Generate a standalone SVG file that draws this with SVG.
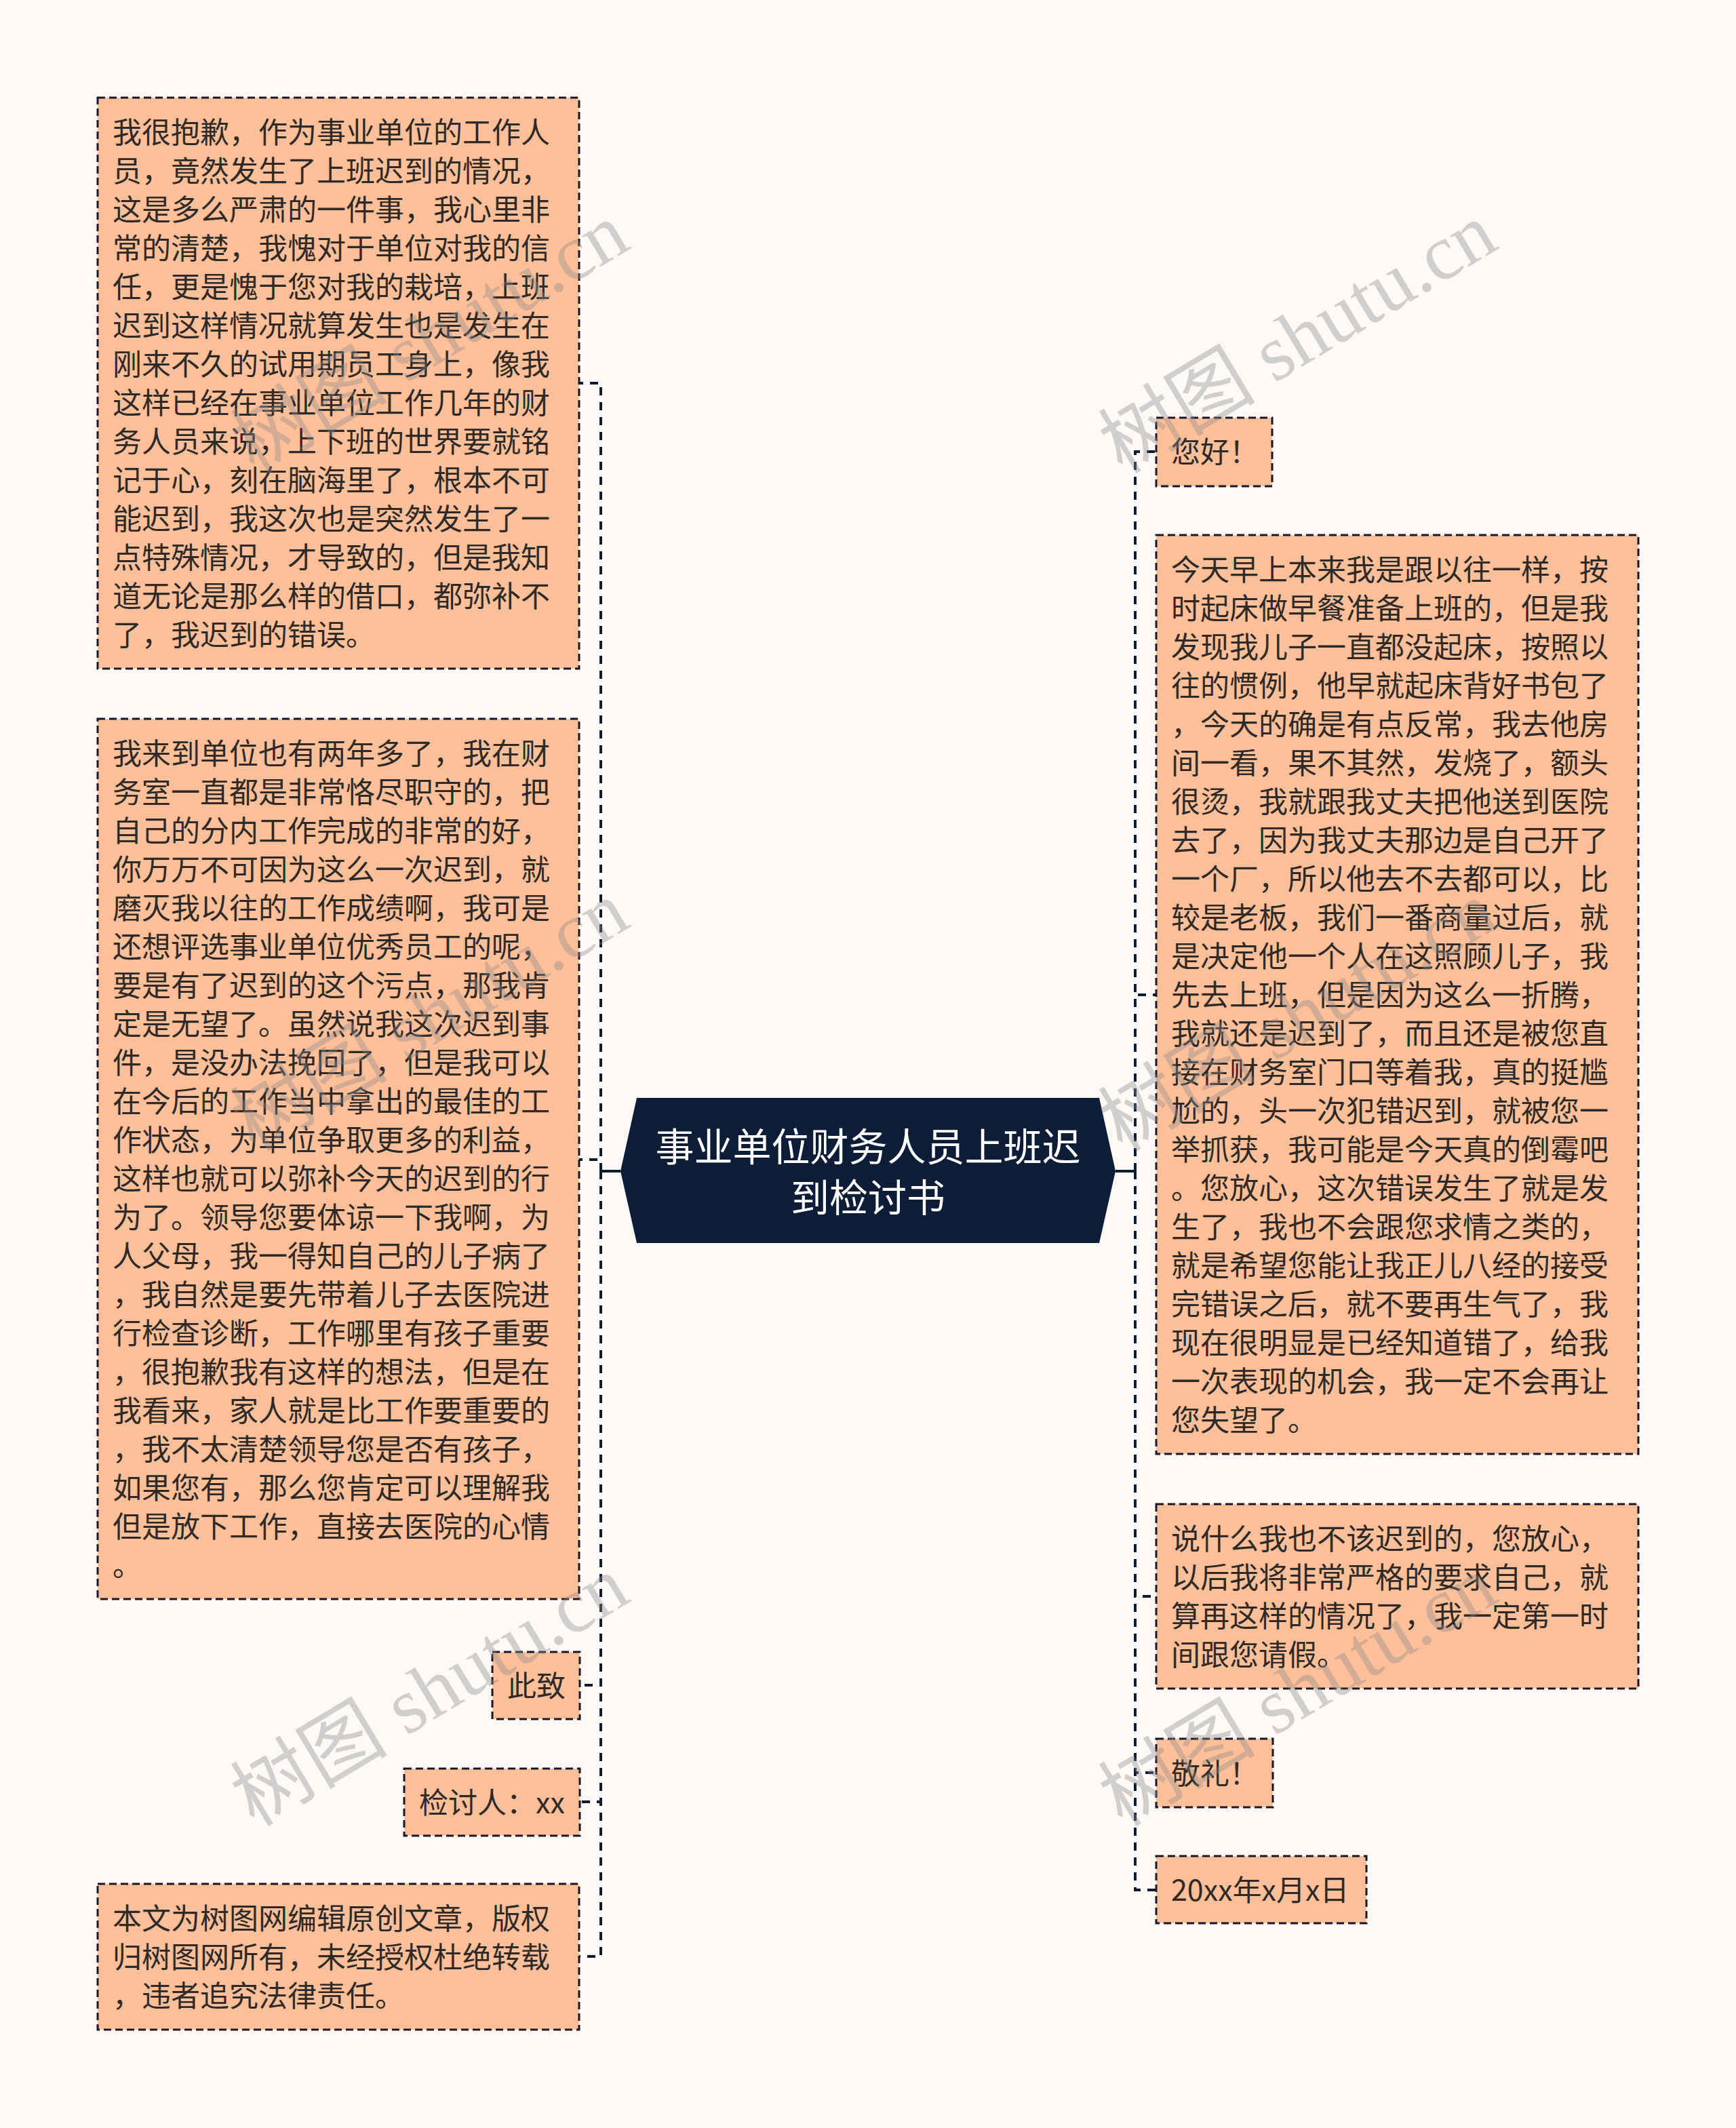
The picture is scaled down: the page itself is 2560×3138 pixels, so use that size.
<svg xmlns="http://www.w3.org/2000/svg" width="2560" height="3138" viewBox="0 0 2560 3138">
<style>
.bg{fill:#fdf9f7}
.box{fill:#ffbf99;stroke:#16182a;stroke-width:3;stroke-dasharray:11 6}
.t{font-family:"Noto Sans CJK SC","Noto Sans",sans-serif;font-size:43px;fill:#2e2a28}
.title{font-family:"Noto Sans CJK SC","Noto Sans",sans-serif;font-size:57px;fill:#ffffff;text-anchor:middle}
.con{fill:none;stroke:#0d1b33;stroke-width:4;stroke-dasharray:12 10}
.solid{fill:none;stroke:#0d1b33;stroke-width:4}
.wm{font-family:"Liberation Serif","Noto Sans CJK SC",serif;font-size:116px;fill:#8c8c8c;opacity:0.38}
</style>
<rect class="bg" x="0" y="0" width="2560" height="3138"/>

<g id="connectors">
  <line class="solid" x1="915" y1="1727" x2="884" y2="1727"/>
  <path class="con" d="M886,1727 V565 H854"/>
  <path class="con" d="M886,1727 V1710 H854"/>
  <path class="con" d="M886,1727 V2485 H855"/>
  <path class="con" d="M886,1727 V2657 H854"/>
  <path class="con" d="M886,1727 V2885 H854"/>
  <line class="solid" x1="1645" y1="1727" x2="1676" y2="1727"/>
  <path class="con" d="M1674,1727 V666 H1705"/>
  <path class="con" d="M1674,1727 V1467 H1705"/>
  <path class="con" d="M1674,1727 V2354 H1705"/>
  <path class="con" d="M1674,1727 V2614 H1705"/>
  <path class="con" d="M1674,1727 V2787 H1705"/>
</g>

<g id="center">
  <polygon points="939,1619 1621,1619 1645,1727 1621,1833 939,1833 915,1727" fill="#0d1d38"/>
  <text class="title"><tspan x="1280" y="1712">事业单位财务人员上班迟</tspan><tspan x="1280" y="1787">到检讨书</tspan></text>
</g>

<g id="node-left-1">
  <rect class="box" x="144" y="144" width="710" height="842"/>
  <text class="t">
    <tspan x="166" y="211">我很抱歉，作为事业单位的工作人</tspan>
    <tspan x="166" y="268">员，竟然发生了上班迟到的情况，</tspan>
    <tspan x="166" y="325">这是多么严肃的一件事，我心里非</tspan>
    <tspan x="166" y="382">常的清楚，我愧对于单位对我的信</tspan>
    <tspan x="166" y="439">任，更是愧于您对我的栽培，上班</tspan>
    <tspan x="166" y="496">迟到这样情况就算发生也是发生在</tspan>
    <tspan x="166" y="553">刚来不久的试用期员工身上，像我</tspan>
    <tspan x="166" y="610">这样已经在事业单位工作几年的财</tspan>
    <tspan x="166" y="667">务人员来说，上下班的世界要就铭</tspan>
    <tspan x="166" y="724">记于心，刻在脑海里了，根本不可</tspan>
    <tspan x="166" y="781">能迟到，我这次也是突然发生了一</tspan>
    <tspan x="166" y="838">点特殊情况，才导致的，但是我知</tspan>
    <tspan x="166" y="895">道无论是那么样的借口，都弥补不</tspan>
    <tspan x="166" y="952">了，我迟到的错误。</tspan>
  </text>
</g>

<g id="node-left-2">
  <rect class="box" x="144" y="1060" width="710" height="1298"/>
  <text class="t">
    <tspan x="166" y="1127">我来到单位也有两年多了，我在财</tspan>
    <tspan x="166" y="1184">务室一直都是非常恪尽职守的，把</tspan>
    <tspan x="166" y="1241">自己的分内工作完成的非常的好，</tspan>
    <tspan x="166" y="1298">你万万不可因为这么一次迟到，就</tspan>
    <tspan x="166" y="1355">磨灭我以往的工作成绩啊，我可是</tspan>
    <tspan x="166" y="1412">还想评选事业单位优秀员工的呢，</tspan>
    <tspan x="166" y="1469">要是有了迟到的这个污点，那我肯</tspan>
    <tspan x="166" y="1526">定是无望了。虽然说我这次迟到事</tspan>
    <tspan x="166" y="1583">件，是没办法挽回了，但是我可以</tspan>
    <tspan x="166" y="1640">在今后的工作当中拿出的最佳的工</tspan>
    <tspan x="166" y="1697">作状态，为单位争取更多的利益，</tspan>
    <tspan x="166" y="1754">这样也就可以弥补今天的迟到的行</tspan>
    <tspan x="166" y="1811">为了。领导您要体谅一下我啊，为</tspan>
    <tspan x="166" y="1868">人父母，我一得知自己的儿子病了</tspan>
    <tspan x="166" y="1925">，我自然是要先带着儿子去医院进</tspan>
    <tspan x="166" y="1982">行检查诊断，工作哪里有孩子重要</tspan>
    <tspan x="166" y="2039">，很抱歉我有这样的想法，但是在</tspan>
    <tspan x="166" y="2096">我看来，家人就是比工作要重要的</tspan>
    <tspan x="166" y="2153">，我不太清楚领导您是否有孩子，</tspan>
    <tspan x="166" y="2210">如果您有，那么您肯定可以理解我</tspan>
    <tspan x="166" y="2267">但是放下工作，直接去医院的心情</tspan>
    <tspan x="166" y="2324">。</tspan>
  </text>
</g>

<g id="node-left-3">
  <rect class="box" x="726" y="2436" width="129" height="99"/>
  <text class="t" x="748" y="2502">此致</text>
</g>

<g id="node-left-4">
  <rect class="box" x="596" y="2608" width="259" height="99"/>
  <text class="t" x="618" y="2674">检讨人：xx</text>
</g>

<g id="node-left-5">
  <rect class="box" x="144" y="2778" width="710" height="215"/>
  <text class="t">
    <tspan x="166" y="2845">本文为树图网编辑原创文章，版权</tspan>
    <tspan x="166" y="2902">归树图网所有，未经授权杜绝转载</tspan>
    <tspan x="166" y="2959">，违者追究法律责任。</tspan>
  </text>
</g>

<g id="node-right-1">
  <rect class="box" x="1705" y="616" width="171" height="101"/>
  <text class="t" x="1727" y="682">您好！</text>
</g>

<g id="node-right-2">
  <rect class="box" x="1705" y="789" width="711" height="1355"/>
  <text class="t">
    <tspan x="1727" y="856">今天早上本来我是跟以往一样，按</tspan>
    <tspan x="1727" y="913">时起床做早餐准备上班的，但是我</tspan>
    <tspan x="1727" y="970">发现我儿子一直都没起床，按照以</tspan>
    <tspan x="1727" y="1027">往的惯例，他早就起床背好书包了</tspan>
    <tspan x="1727" y="1084">，今天的确是有点反常，我去他房</tspan>
    <tspan x="1727" y="1141">间一看，果不其然，发烧了，额头</tspan>
    <tspan x="1727" y="1198">很烫，我就跟我丈夫把他送到医院</tspan>
    <tspan x="1727" y="1255">去了，因为我丈夫那边是自己开了</tspan>
    <tspan x="1727" y="1312">一个厂，所以他去不去都可以，比</tspan>
    <tspan x="1727" y="1369">较是老板，我们一番商量过后，就</tspan>
    <tspan x="1727" y="1426">是决定他一个人在这照顾儿子，我</tspan>
    <tspan x="1727" y="1483">先去上班，但是因为这么一折腾，</tspan>
    <tspan x="1727" y="1540">我就还是迟到了，而且还是被您直</tspan>
    <tspan x="1727" y="1597">接在财务室门口等着我，真的挺尴</tspan>
    <tspan x="1727" y="1654">尬的，头一次犯错迟到，就被您一</tspan>
    <tspan x="1727" y="1711">举抓获，我可能是今天真的倒霉吧</tspan>
    <tspan x="1727" y="1768">。您放心，这次错误发生了就是发</tspan>
    <tspan x="1727" y="1825">生了，我也不会跟您求情之类的，</tspan>
    <tspan x="1727" y="1882">就是希望您能让我正儿八经的接受</tspan>
    <tspan x="1727" y="1939">完错误之后，就不要再生气了，我</tspan>
    <tspan x="1727" y="1996">现在很明显是已经知道错了，给我</tspan>
    <tspan x="1727" y="2053">一次表现的机会，我一定不会再让</tspan>
    <tspan x="1727" y="2110">您失望了。</tspan>
  </text>
</g>

<g id="node-right-3">
  <rect class="box" x="1705" y="2218" width="711" height="272"/>
  <text class="t">
    <tspan x="1727" y="2285">说什么我也不该迟到的，您放心，</tspan>
    <tspan x="1727" y="2342">以后我将非常严格的要求自己，就</tspan>
    <tspan x="1727" y="2399">算再这样的情况了，我一定第一时</tspan>
    <tspan x="1727" y="2456">间跟您请假。</tspan>
  </text>
</g>

<g id="node-right-4">
  <rect class="box" x="1705" y="2564" width="172" height="101"/>
  <text class="t" x="1727" y="2631">敬礼！</text>
</g>

<g id="node-right-5">
  <rect class="box" x="1705" y="2737" width="310" height="99"/>
  <text class="t" x="1727" y="2803">20xx年x月x日</text>
</g>

<g id="watermarks">
  <text class="wm" transform="translate(375,700) rotate(-31)">树图 shutu.cn</text>
  <text class="wm" transform="translate(1655,700) rotate(-31)">树图 shutu.cn</text>
  <text class="wm" transform="translate(375,1700) rotate(-31)">树图 shutu.cn</text>
  <text class="wm" transform="translate(1655,1700) rotate(-31)">树图 shutu.cn</text>
  <text class="wm" transform="translate(375,2695) rotate(-31)">树图 shutu.cn</text>
  <text class="wm" transform="translate(1655,2695) rotate(-31)">树图 shutu.cn</text>
</g>
</svg>
